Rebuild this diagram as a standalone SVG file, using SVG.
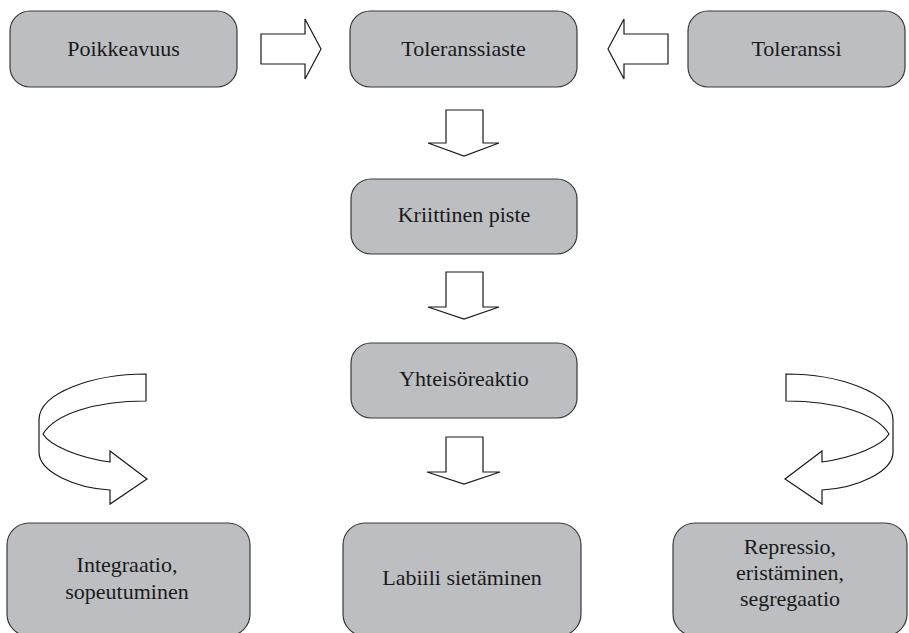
<svg xmlns="http://www.w3.org/2000/svg" width="909" height="633" viewBox="0 0 909 633">
<style>
.box{fill:#bdbec2;stroke:#3a3a3a;stroke-width:1.2}
.arr{fill:#ffffff;stroke:#1a1a1a;stroke-width:1.2;stroke-linejoin:miter}
text{font-family:"Liberation Serif","Times New Roman",serif;font-size:22px;fill:#1a1a1a;text-anchor:middle}
</style>
<rect width="909" height="633" fill="#ffffff"/>
<g id="connectors">
<path class="arr" d="M261,34 L305,34 L305,19 L321,49 L305,79 L305,64 L261,64 Z"/>
<path class="arr" d="M668,34 L624,34 L624,19 L608,49 L624,79 L624,64 L668,64 Z"/>
<path class="arr" d="M446,110 L483,110 L483,143 L499,143 L464,156 L428,143 L446,143 Z"/>
<path class="arr" d="M446,272 L483,272 L483,307 L499,307 L464,319 L428,307 L446,307 Z"/>
<path class="arr" d="M446,437 L483,437 L483,472 L500,472 L464,484 L427,472 L446,472 Z"/>
<path class="arr" d="M146,374 C95,374 39,392 39,420 L39,452 C39,472 75,488 110,490 L110,504 L147,479 L110,451 L110,462 C80,458 50,446 43,434 C55,414 95,401 146,401 Z"/>
<path class="arr" d="M786,374 C837,374 893,392 893,420 L893,452 C893,472 857,488 822,490 L822,504 L785,479 L822,451 L822,462 C852,458 882,446 889,434 C877,414 837,401 786,401 Z"/>
</g>
<g id="poikkeavuus"><rect class="box" x="10" y="11" width="227" height="76" rx="20"/><text x="123.5" y="56">Poikkeavuus</text></g>
<g id="toleranssiaste"><rect class="box" x="350" y="11" width="227" height="76" rx="20"/><text x="463.5" y="56">Toleranssiaste</text></g>
<g id="toleranssi"><rect class="box" x="688" y="11" width="217" height="76" rx="20"/><text x="796.5" y="56">Toleranssi</text></g>
<g id="kriittinen"><rect class="box" x="351" y="179" width="226" height="75" rx="20"/><text x="464" y="222">Kriittinen piste</text></g>
<g id="yhteisoreaktio"><rect class="box" x="351" y="343" width="226" height="75" rx="20"/><text x="464" y="386">Yhteisöreaktio</text></g>
<g id="integraatio"><rect class="box" x="7" y="523" width="243" height="113" rx="22"/><text x="127" y="572">Integraatio,</text><text x="127" y="599">sopeutuminen</text></g>
<g id="labiili"><rect class="box" x="343" y="523" width="238" height="113" rx="22"/><text x="462" y="585">Labiili sietäminen</text></g>
<g id="repressio"><rect class="box" x="673" y="523" width="234" height="113" rx="22"/><text x="790" y="554">Repressio,</text><text x="790" y="580">eristäminen,</text><text x="790" y="606">segregaatio</text></g>
</svg>
